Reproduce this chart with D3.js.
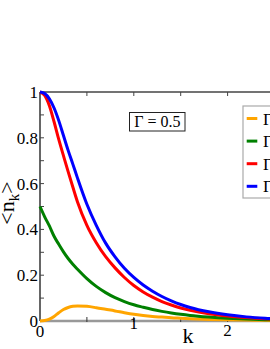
<!DOCTYPE html>
<html><head><meta charset="utf-8">
<script src="https://cdn.jsdelivr.net/npm/d3@7/dist/d3.min.js"></script>
</head><body style="margin:0">
<script>
const kValues = [0,0.05,0.1,0.15,0.2,0.25,0.3,0.35,0.4,0.5,0.6,0.7,0.8,0.9,1.0,1.1,1.2,1.3,1.4,1.5,1.6,1.8,2.0,2.2,2.4,2.6,2.8,3.0];
const orangeN = [0,0.002,0.008,0.02,0.036,0.05,0.059,0.064,0.066,0.064,0.058,0.051,0.044,0.036,0.029,0.024,0.02,0.017,0.014,0.012,0.01,0.007,0.005,0.004,0.003,0.002,0.002,0.001];
const greenN = [0.5,0.455,0.415,0.37,0.335,0.302,0.273,0.248,0.226,0.185,0.151,0.124,0.102,0.085,0.071,0.06,0.05,0.042,0.035,0.029,0.024,0.017,0.012,0.009,0.006,0.004,0.003,0.002];
const redN = [1.0,0.985,0.94,0.87,0.793,0.722,0.652,0.585,0.52,0.418,0.342,0.281,0.232,0.19,0.155,0.127,0.104,0.085,0.07,0.057,0.047,0.032,0.022,0.015,0.01,0.007,0.005,0.004];
const blueN = [1.0,0.993,0.97,0.93,0.875,0.81,0.745,0.685,0.624,0.51,0.418,0.34,0.28,0.23,0.19,0.157,0.13,0.107,0.088,0.072,0.059,0.04,0.027,0.018,0.012,0.008,0.006,0.004];
const seriesNames = ["Γt = 0.5","Γt = 1","Γt = 2","Γt = 5"];
const seriesColors = ["#ffa500","#008000","#ff0000","#0000ff"];
const xTicks = [0,1,2];
const xMinorTicks = [0.5,1,1.5,2,2.5];
const yTicks = [0,0.2,0.4,0.6,0.8,1];
const yTickLabels = ["0","0.2","0.4","0.6","0.8","1"];
const yMinorTicks = [0.1,0.2,0.3,0.4,0.5,0.6,0.7,0.8,0.9];
const panelLabel = "Γ = 0.5";

const W=270,H=349;
const svg=d3.select("body").append("svg").attr("width",W).attr("height",H).style("display","block");
const x=d3.scaleLinear().domain([0,3]).range([40,321.4]);
const y=d3.scaleLinear().domain([0,1]).range([321,92]);
const T=(sel)=>sel.append("text").style("font-family",'"Liberation Serif"').attr("fill","#000");

svg.append("line").attr("x1",x(0)).attr("x2",W+5).attr("y1",y(1)).attr("y2",y(1)).attr("stroke","#444").attr("stroke-width",1.5);
svg.append("line").attr("x1",x(0)).attr("x2",x(0)).attr("y1",y(1)).attr("y2",y(0)).attr("stroke","#333").attr("stroke-width",1.5);
svg.selectAll(".tt").data(xMinorTicks).enter().append("line")
 .attr("x1",d=>x(d)).attr("x2",d=>x(d)).attr("y1",y(1)).attr("y2",y(1)+4).attr("stroke","#444").attr("stroke-width",1);
svg.selectAll(".lt").data(yMinorTicks).enter().append("line")
 .attr("x1",x(0)).attr("x2",x(0)+4).attr("y1",d=>y(d)).attr("y2",d=>y(d)).attr("stroke","#444").attr("stroke-width",1);
svg.append("line").attr("x1",x(0)).attr("x2",W+5).attr("y1",y(0)).attr("y2",y(0)).attr("stroke","#999").attr("stroke-width",2.5);
svg.selectAll(".bt").data(xMinorTicks).enter().append("line")
 .attr("x1",d=>x(d)).attr("x2",d=>x(d)).attr("y1",y(0)-4).attr("y2",y(0)+1).attr("stroke","#333").attr("stroke-width",1);

yTicks.forEach((d,i)=>{
 T(svg).attr("x",x(0)-2).attr("y",y(d)+6).attr("text-anchor","end").attr("font-size",17).text(yTickLabels[i]);
});
const xdy=[16,8,15];
xTicks.forEach((d,i)=>{
 T(svg).attr("x",x(d)).attr("y",y(0)+xdy[i]).attr("text-anchor","middle").attr("font-size",17).text(d);
});
T(svg).attr("x",188).attr("y",343).attr("text-anchor","middle").attr("font-size",22).text("k");
const yl=T(svg).attr("transform","translate(14,203) rotate(-90)").attr("text-anchor","middle").attr("font-size",22);
yl.append("tspan").text("<n");
yl.append("tspan").attr("font-size",15).attr("dy",5).text("k");
yl.append("tspan").attr("dy",-5).text(">");

const all=[orangeN,greenN,redN,blueN];
const line=d3.line().x((d,i)=>x(kValues[i])).y(d=>y(d)).curve(d3.curveMonotoneX);
all.forEach((s,i)=>{
 svg.append("path").attr("d",line(s)).attr("fill","none").attr("stroke",seriesColors[i]).attr("stroke-width",3);
});

svg.append("rect").attr("x",129.5).attr("y",112.5).attr("width",55.5).attr("height",18.5).attr("fill","#fff").attr("stroke","#222").attr("stroke-width",1);
T(svg).attr("x",157.3).attr("y",127).attr("text-anchor","middle").attr("font-size",16).text(panelLabel);

const lg=svg.append("g");
lg.append("rect").attr("x",243).attr("y",106).attr("width",60).attr("height",92).attr("fill","#fff").attr("stroke","#aaa").attr("stroke-width",1.2);
seriesNames.forEach((n,i)=>{
 const yy=118.5+i*22.6;
 lg.append("line").attr("x1",246.7).attr("x2",257.3).attr("y1",yy).attr("y2",yy).attr("stroke",seriesColors[i]).attr("stroke-width",3);
 T(lg).attr("x",263).attr("y",yy+6).attr("font-size",17).text(n);
});
</script></body></html>
